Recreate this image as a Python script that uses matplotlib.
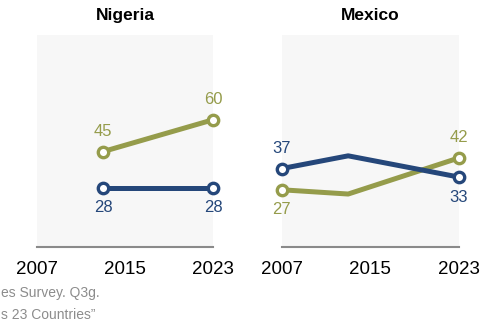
import matplotlib.pyplot as plt

plt.rcParams['font.family'] = ['Liberation Sans', 'DejaVu Sans']

# data
countries = ['Nigeria', 'Mexico']
nigeria_years = [2013, 2023]
nigeria_green = [45, 60]
nigeria_blue = [28, 28]
mexico_years = [2007, 2013, 2023]
mexico_green = [27, 25, 42]
mexico_blue = [37, 43, 33]
tick_years = [2007, 2015, 2023]
note_lines = ['es Survey. Q3g.', 's 23 Countries\u201d']

green = '#959C4B'
blue = '#25477A'

fig = plt.figure(figsize=(4.85, 3.29), dpi=100)
ax1 = fig.add_axes([0.0763, 0.249, 0.363, 0.645])
ax2 = fig.add_axes([0.581, 0.249, 0.365, 0.645])


def draw_line(ax, years, vals, color):
    ax.plot(years, vals, color=color, lw=3.6, solid_capstyle='round', zorder=3)
    ax.plot([years[0], years[-1]], [vals[0], vals[-1]], 'o', ms=7.5,
            mfc='white', mec=color, mew=2.4, lw=0, zorder=4)


def label(ax, x, y, color, above=True):
    off = 9 if above else -9
    ax.annotate(str(y), (x, y), xytext=(0, off), textcoords='offset points',
                ha='center', va='bottom' if above else 'top',
                fontsize=12, color=color)


draw_line(ax1, nigeria_years, nigeria_green, green)
draw_line(ax1, nigeria_years, nigeria_blue, blue)
label(ax1, nigeria_years[0], nigeria_green[0], green)
label(ax1, nigeria_years[-1], nigeria_green[-1], green)
label(ax1, nigeria_years[0], nigeria_blue[0], blue, above=False)
label(ax1, nigeria_years[-1], nigeria_blue[-1], blue, above=False)

draw_line(ax2, mexico_years, mexico_green, green)
draw_line(ax2, mexico_years, mexico_blue, blue)
label(ax2, mexico_years[0], mexico_blue[0], blue)
label(ax2, mexico_years[0], mexico_green[0], green, above=False)
label(ax2, mexico_years[-1], mexico_green[-1], green)
label(ax2, mexico_years[-1], mexico_blue[-1], blue, above=False)

for ax, name in zip([ax1, ax2], countries):
    ax.set_xlim(2007, 2023)
    ax.set_ylim(0, 100)
    ax.set_facecolor('#F7F7F7')
    for s in ['top', 'left', 'right']:
        ax.spines[s].set_visible(False)
    ax.spines['bottom'].set_color('#8A8A8A')
    ax.spines['bottom'].set_linewidth(1.5)
    ax.set_yticks([])
    ax.set_xticks(tick_years)
    ax.set_xticklabels([str(y) for y in tick_years], fontsize=13.5)
    ax.tick_params(axis='x', length=0, pad=10)
    ax.set_title(name, fontsize=12.5, fontweight='bold', pad=11)
    for sp in ax.spines.values():
        sp.set_zorder(5)
    ax.patch.set_zorder(0)
    for ln in ax.lines:
        ln.set_clip_on(False)

fig.text(0.002, 0.108, note_lines[0], fontsize=10, color='#8C8C8C', va='center')
fig.text(0.002, 0.042, note_lines[1], fontsize=10, color='#8C8C8C', va='center')

fig.savefig('out.png', dpi=100)
